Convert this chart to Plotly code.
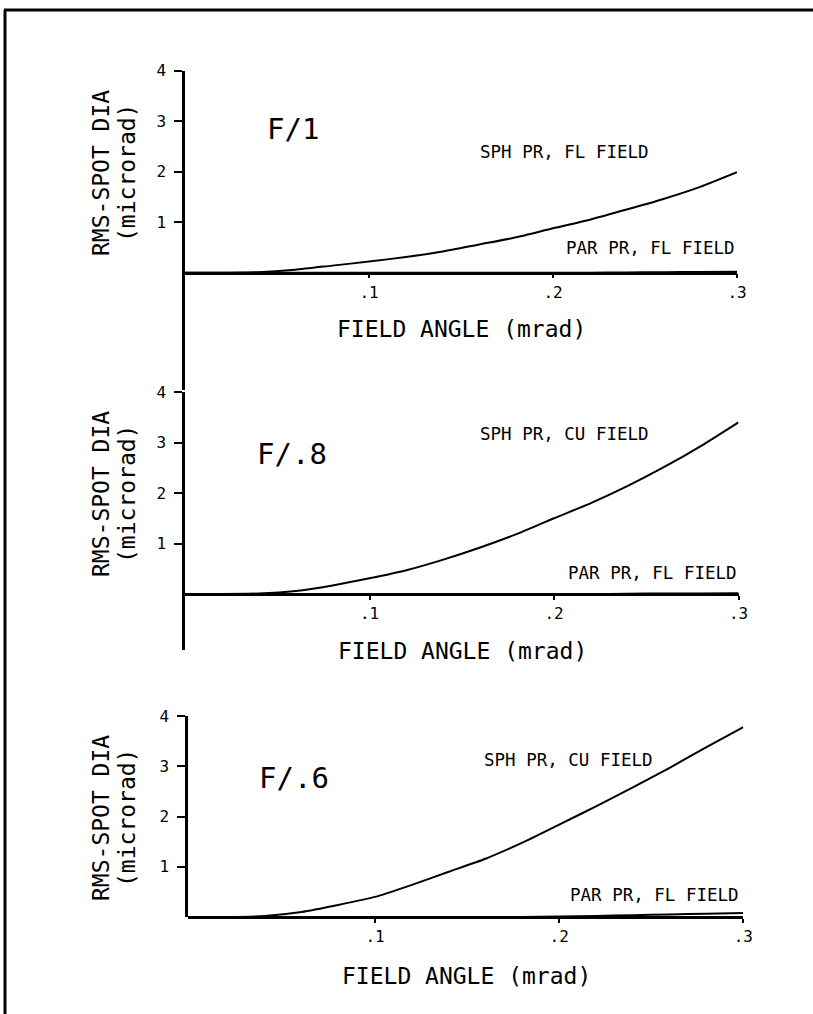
import plotly.graph_objects as go

W, H = 813, 1014

# ---------------- data ----------------
field_angle = [0.0, 0.02, 0.04, 0.06, 0.08, 0.10, 0.12, 0.14, 0.16, 0.18,
               0.20, 0.22, 0.24, 0.26, 0.28, 0.30]

sph_f1 = [0.0, 0.0, 0.01, 0.06, 0.14, 0.22, 0.31, 0.42, 0.56, 0.70,
          0.88, 1.05, 1.25, 1.46, 1.70, 1.99]
par_f1 = [0.0, 0.0, 0.0, 0.0, 0.0, 0.0, 0.0, 0.0, 0.0, 0.0,
          0.0, 0.0, 0.005, 0.01, 0.015, 0.02]

sph_f08 = [0.0, 0.0, 0.01, 0.06, 0.17, 0.31, 0.47, 0.68, 0.92, 1.19,
           1.50, 1.80, 2.14, 2.52, 2.94, 3.40]
par_f08 = [0.0, 0.0, 0.0, 0.0, 0.0, 0.0, 0.0, 0.0, 0.0, 0.0,
           0.0, 0.0, 0.005, 0.01, 0.01, 0.015]

sph_f06 = [0.0, 0.0, 0.02, 0.10, 0.24, 0.40, 0.64, 0.90, 1.16, 1.48,
           1.84, 2.20, 2.58, 2.97, 3.38, 3.78]
par_f06 = [0.0, 0.0, 0.0, 0.0, 0.0, 0.0, 0.0, 0.0, 0.0, 0.002,
           0.008, 0.02, 0.035, 0.05, 0.065, 0.08]

panel_labels = ["F/1", "F/.8", "F/.6"]
sph_labels = ["SPH PR, FL FIELD", "SPH PR, CU FIELD", "SPH PR, CU FIELD"]
par_labels = ["PAR PR, FL FIELD", "PAR PR, FL FIELD", "PAR PR, FL FIELD"]
x_tick_vals = [0.1, 0.2, 0.3]
x_tick_text = [".1", ".2", ".3"]
y_tick_vals = [1, 2, 3, 4]
y_tick_text = ["1", "2", "3", "4"]
x_title = "FIELD ANGLE (mrad)"
y_title_1 = "RMS-SPOT DIA"
y_title_2 = "(microrad)"

FONT = "DejaVu Sans Mono"
INK = "black"


def px_x(p):
    return p / W


def px_y(p):
    return 1 - p / H


# layout geometry per panel (pixels)
panels = [
    dict(x0=185, x1=737, xr=[0, 0.3], ytop=70.7, base=272.7, bottom=390, upp=50.5,
         lab=(265, 129), sph=(478, 151.5), par=(737, 248.5), ycen=173, xt=(462, 329)),
    dict(x0=185, x1=738.5, xr=[0, 0.3], ytop=392, base=594, bottom=650, upp=50.5,
         lab=(255, 453.5), sph=(478, 433.5), par=(739, 572.5), ycen=494, xt=(463, 651)),
    dict(x0=188, x1=743.3, xr=[-0.0016, 0.3], ytop=716, base=917, bottom=917, upp=50.25,
         lab=(257, 777.5), sph=(482, 759.5), par=(741, 895), ycen=818, xt=(466, 976)),
]
series = [(sph_f1, par_f1), (sph_f08, par_f08), (sph_f06, par_f06)]

fig = go.Figure()
annotations = []


def note(text, x, y, size, xanchor="left", angle=0):
    return dict(text=text, xref="paper", yref="paper", x=px_x(x), y=px_y(y),
                xanchor=xanchor, yanchor="middle", showarrow=False, textangle=angle,
                font=dict(family=FONT, size=size, color=INK))


for i, (p, (sph, par)) in enumerate(zip(panels, series), start=1):
    xa = "x" if i == 1 else f"x{i}"
    ya = "y" if i == 1 else f"y{i}"
    for vals in (sph, par):
        fig.add_trace(go.Scatter(
            x=field_angle, y=vals, xaxis=xa, yaxis=ya, mode="lines",
            line=dict(color=INK, width=2, shape="spline", smoothing=0.6),
            cliponaxis=False, showlegend=False, hoverinfo="skip"))

    ymin = -(p["bottom"] - p["base"]) / p["upp"]
    ymax = 4.0
    fig.layout[f"xaxis{'' if i == 1 else i}"] = dict(
        domain=[px_x(p["x0"]), px_x(p["x1"])], range=p["xr"],
        anchor="free", position=px_y(p["base"]),
        showline=True, linecolor=INK, linewidth=2.5,
        showgrid=False, zeroline=False, automargin=False,
        tickmode="array", tickvals=x_tick_vals, ticktext=x_tick_text,
        ticks="outside", ticklen=4, tickwidth=1.5, tickcolor=INK,
        tickfont=dict(family=FONT, size=16, color=INK), fixedrange=True)
    fig.layout[f"yaxis{'' if i == 1 else i}"] = dict(
        domain=[px_y(p["bottom"]), px_y(p["ytop"])], range=[ymin, ymax],
        anchor=xa, showline=True, linecolor=INK, linewidth=2.5,
        showgrid=False, zeroline=False, automargin=False,
        tickmode="array", tickvals=y_tick_vals, ticktext=y_tick_text,
        ticks="outside", ticklen=8, tickwidth=1.5, tickcolor=INK,
        ticklabelstandoff=5,
        tickfont=dict(family=FONT, size=16, color=INK), fixedrange=True)

    annotations.append(note(panel_labels[i - 1], p["lab"][0], p["lab"][1], 29))
    annotations.append(note(sph_labels[i - 1], p["sph"][0], p["sph"][1], 17.5))
    annotations.append(note(par_labels[i - 1], p["par"][0], p["par"][1], 17.5, xanchor="right"))
    annotations.append(note(y_title_1, 101, p["ycen"], 23, xanchor="center", angle=-90))
    annotations.append(note(y_title_2, 127, p["ycen"], 23, xanchor="center", angle=-90))
    annotations.append(note(x_title, p["xt"][0], p["xt"][1], 23, xanchor="center"))

# page frame (left and top edges of the scanned sheet)
shapes = [
    dict(type="line", xref="paper", yref="paper", x0=px_x(5), x1=px_x(5),
         y0=px_y(1014), y1=px_y(10), line=dict(color=INK, width=3)),
    dict(type="line", xref="paper", yref="paper", x0=px_x(4), x1=px_x(813),
         y0=px_y(10), y1=px_y(10), line=dict(color=INK, width=3)),
]

fig.update_layout(
    width=W, height=H, autosize=False,
    margin=dict(l=0, r=0, t=0, b=0, pad=0, autoexpand=False),
    paper_bgcolor="white", plot_bgcolor="white",
    font=dict(family=FONT, color=INK),
    annotations=annotations, shapes=shapes, showlegend=False,
)

fig.write_html("out.html", config={"displayModeBar": False})
